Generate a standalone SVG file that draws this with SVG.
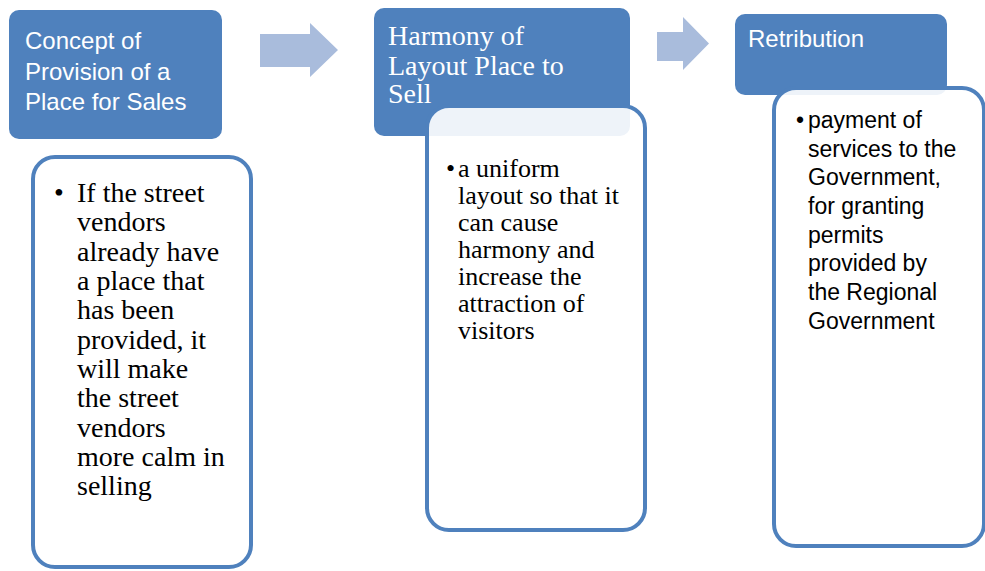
<svg xmlns="http://www.w3.org/2000/svg" width="985" height="571" viewBox="0 0 985 571">
<style>
.hdr{fill:#4F81BD;}
.det{fill:#FFFFFF;fill-opacity:0.9;stroke:#4F81BD;stroke-width:4;}
.arr{fill:#A9BCDC;}
.sansW{font-family:"Liberation Sans",Arial,sans-serif;font-size:24px;fill:#FFFFFF;}
.serifW{font-family:"Liberation Serif","Times New Roman",serif;font-size:28px;fill:#FFFFFF;}
.serifB{font-family:"Liberation Serif","Times New Roman",serif;fill:#000000;}
.sansB{font-family:"Liberation Sans",Arial,sans-serif;font-size:23px;fill:#000000;}
</style>
<rect width="985" height="571" fill="#FFFFFF"/>
<g id="connectors">
<polygon class="arr" points="260,34 310,34 310,23 338,50 310,77 310,67 260,67"/>
<polygon class="arr" points="657,32 683,32 683,17 709,43.5 683,70 683,61 657,61"/>
</g>
<g id="node1">
<rect class="hdr" x="9" y="10" width="213" height="129" rx="10"/>
<text class="sansW"><tspan x="25" y="49">Concept of</tspan><tspan x="25" y="80">Provision of a</tspan><tspan x="25" y="110">Place for Sales</tspan></text>
</g>
<g id="detail1">
<rect class="det" x="33" y="157" width="218" height="410" rx="22"/>
<text class="serifB" font-size="28"><tspan x="54" y="202">•</tspan><tspan x="77" y="202">If the street</tspan><tspan x="77" y="231">vendors</tspan><tspan x="77" y="261">already have</tspan><tspan x="77" y="290">a place that</tspan><tspan x="77" y="319">has been</tspan><tspan x="77" y="349">provided, it</tspan><tspan x="77" y="378">will make</tspan><tspan x="77" y="407">the street</tspan><tspan x="77" y="437">vendors</tspan><tspan x="77" y="466">more calm in</tspan><tspan x="77" y="495">selling</tspan></text>
</g>
<g id="node2">
<rect class="hdr" x="374" y="8" width="256" height="128" rx="10"/>
<text class="serifW"><tspan x="388" y="45">Harmony of</tspan><tspan x="388" y="75">Layout Place to</tspan><tspan x="388" y="103">Sell</tspan></text>
</g>
<g id="detail2">
<rect class="det" x="427" y="106" width="218" height="424" rx="22"/>
<text class="serifB" font-size="26"><tspan x="446" y="177">•</tspan><tspan x="458" y="177">a uniform</tspan><tspan x="458" y="204">layout so that it</tspan><tspan x="458" y="231">can cause</tspan><tspan x="458" y="258">harmony and</tspan><tspan x="458" y="285">increase the</tspan><tspan x="458" y="312">attraction of</tspan><tspan x="458" y="339">visitors</tspan></text>
</g>
<g id="node3">
<rect class="hdr" x="735" y="14" width="212" height="81" rx="10"/>
<text class="sansW" x="748" y="47">Retribution</text>
</g>
<g id="detail3">
<rect class="det" x="774" y="88" width="210" height="458" rx="22"/>
<text class="sansB"><tspan x="796" y="128">•</tspan><tspan x="808" y="128">payment of</tspan><tspan x="808" y="157">services to the</tspan><tspan x="808" y="185">Government,</tspan><tspan x="808" y="214">for granting</tspan><tspan x="808" y="243">permits</tspan><tspan x="808" y="271">provided by</tspan><tspan x="808" y="300">the Regional</tspan><tspan x="808" y="329">Government</tspan></text>
</g>
</svg>
